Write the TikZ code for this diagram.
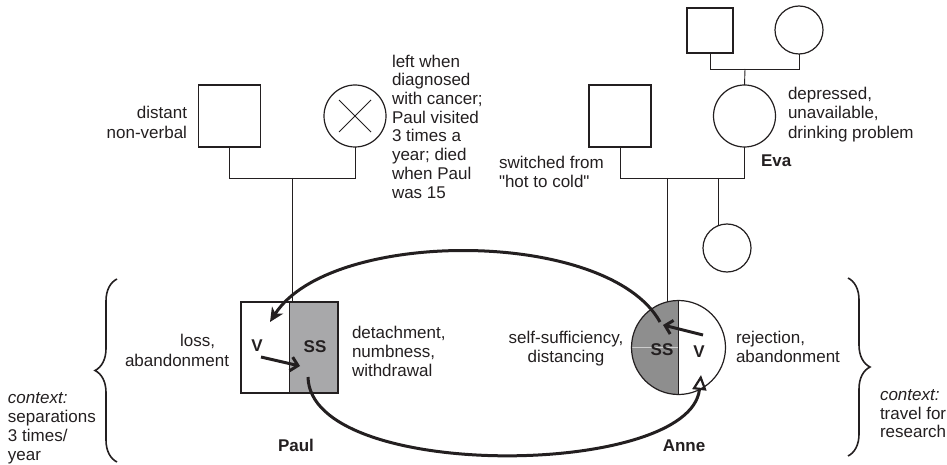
\documentclass[tikz,border=0pt]{standalone}
\usepackage{fontspec}
\setmainfont{Liberation Sans}[Ligatures=TeXOff]
\usetikzlibrary{arrows.meta,decorations.pathreplacing,calc}
\definecolor{ink}{RGB}{35,31,32}
\definecolor{paulgray}{RGB}{168,168,170}
\definecolor{annegray}{RGB}{142,142,142}
\definecolor{seam}{RGB}{205,205,205}
\begin{document}
\begin{tikzpicture}[x=1pt,y=-1pt,
  every node/.style={inner sep=0pt, outer sep=0pt, text=ink},
  boldlbl/.style={font=\fontsize{17}{19}\selectfont\bfseries},
  ped/.style={draw=ink, line width=0.9pt},
  male/.style={draw=ink, line width=1.2pt, minimum width=62pt, minimum height=62pt},
  female/.style={draw=ink, circle, line width=1.2pt},
  loopline/.style={draw=ink, line width=3pt},
  innerarrow/.style={draw=ink, line width=3pt, -{Straight Barb[length=7pt,width=14pt]}},
  cbrace/.style={draw=ink, line width=1.6pt, decorate, decoration={brace, amplitude=22pt}},
]
\useasboundingbox (0,0) rectangle (947,465);

% ---------- Paul's parents ----------
\node[male] (pf) at (229.5,116) {};
\node[female, minimum size=62pt] (pm) at (355,116) {};
\draw[ped] ([shift={(-16,-16)}]pm.center) -- ([shift={(16,16)}]pm.center);
\draw[ped] ([shift={(16,-16)}]pm.center) -- ([shift={(-16,16)}]pm.center);
\coordinate (pmj) at (292,178);
\draw[ped] (pf.south) -- (pf.south |- pmj) -- (pm.south |- pmj) -- (pm.south);

% ---------- Paul ----------
\node[draw=ink, line width=1.2pt, minimum width=97pt, minimum height=91pt,
  path picture={
    \fill[paulgray] (path picture bounding box.north) rectangle (path picture bounding box.south east);
    \draw[ink, line width=1.2pt] (path picture bounding box.north) -- (path picture bounding box.south);
  }] (paul) at (289.5,347.5) {};
\draw[ped] (pmj) -- (pmj |- paul.north);

% ---------- Anne's parents ----------
\node[male] (af) at (620,116) {};
\node[female, minimum size=62pt] (eva) at (744.5,116) {};
\node[draw=ink, line width=2.6pt, minimum width=46pt, minimum height=45pt] (ef) at (710,30.5) {};
\node[female, minimum size=48pt] (em) at (799,30) {};
\coordinate (emj) at (745,69);
\draw[ped] (ef.south) -- (ef.south |- emj) -- (em.south |- emj) -- (em.south);
\draw[ped] (emj) -- (eva.north);

% ---------- Anne and sibling ----------
\node[draw=ink, circle, line width=1.2pt, minimum size=94pt,
  path picture={
    \fill[annegray] (path picture bounding box.north west) rectangle (path picture bounding box.south);
    \draw[seam, line width=0.7pt] (path picture bounding box.west) -- (path picture bounding box.center);
    \draw[ink, line width=1pt] (path picture bounding box.north) -- (path picture bounding box.south);
  }] (anne) at (678.5,347.5) {};
\node[female, minimum size=48pt] (sib) at (727,248) {};
\coordinate (amj) at (669,178);
\draw[ped] (af.south) -- (af.south |- amj) -- (eva.south |- amj) -- (eva.south);
\draw[ped] (anne.103 |- amj) -- (anne.103);
\draw[ped] (sib.112 |- amj) -- (sib.112);

% ---------- labels ----------
\node[font=\fontsize{17}{20}\selectfont, align=right, anchor=north east] (tpf) at (187,105.8) {distant\\non-verbal};
\node[font=\fontsize{17}{18.7}\selectfont, align=left, anchor=north west] (tpm) at (392,54.8)
  {left when\\diagnosed\\with cancer;\\Paul visited\\3 times a\\year; died\\when Paul\\was 15};
\node[font=\fontsize{17}{19}\selectfont, align=left, anchor=north west] (taf) at (499,155.8)
  {switched from\\"hot to cold"};
\node[font=\fontsize{17}{19.7}\selectfont, align=left, anchor=north west] (teva) at (788,86.8)
  {depressed,\\unavailable,\\drinking problem};
\node[boldlbl, anchor=base west] (neva) at (761,167) {Eva};

\node[font=\fontsize{17}{20.5}\selectfont, align=right, anchor=north east] (tloss) at (229,333.8)
  {loss,\kern14pt\\abandonment};
\node[font=\fontsize{17}{19}\selectfont, align=left, anchor=north west] (tdet) at (352,325.8)
  {detachment,\\numbness,\\withdrawal};
\node[font=\fontsize{17}{19.5}\selectfont, align=center, anchor=north] (tself) at (566,330.8)
  {self-sufficiency,\\distancing};
\node[font=\fontsize{17}{19.5}\selectfont, align=left, anchor=north west] (trej) at (736,330.8)
  {rejection,\\abandonment};

\node[font=\fontsize{17}{19}\selectfont, align=left, anchor=north west] (tctxl) at (8,392.6)
  {\textit{context:}\\separations\\3 times/\\year};
\node[font=\fontsize{17}{18.3}\selectfont, align=left, anchor=north west] (tctxr) at (880,389.8)
  {\textit{context:}\\travel for\\research};

\node[boldlbl, anchor=base] (npaul) at (296,451) {Paul};
\node[boldlbl, anchor=base] (nanne) at (684,451) {Anne};

\node[boldlbl, anchor=base] (pv) at (257,351) {V};
\node[boldlbl, anchor=base] (pss) at (315,352) {SS};
\node[boldlbl, anchor=base] (ass) at (662,355) {SS};
\node[boldlbl, anchor=base] (av) at (699,357) {V};

% ---------- inner arrows ----------
\coordinate (pvs) at (261,357);
\coordinate (pve) at (300,366);
\draw[innerarrow] (pvs) -- (pve);
\coordinate (avs) at (703,335);
\coordinate (ave) at (663,325);
\draw[innerarrow] (avs) -- (ave);

% ---------- cycle ----------
\coordinate (loopA) at (660,322);
\coordinate (loopP) at (270,322);
\draw[loopline, -{Stealth[length=14pt,width=13pt,inset=4pt]}] (loopA) .. controls (608,228) and (330,228) .. (loopP);
\coordinate (loopP2) at (308,377);
\coordinate (loopA2) at (701,375);
\draw[loopline, -{Triangle[open,length=15pt,width=14pt,line width=2.2pt]}] (loopP2) .. controls (310,482) and (690,478) .. (loopA2);

% ---------- braces ----------
\coordinate (lb1) at (117,462);
\coordinate (lb2) at (117,279);
\draw[cbrace] (lb1) -- (lb2);
\coordinate (rb1) at (848,278);
\coordinate (rb2) at (848,456);
\draw[cbrace] (rb1) -- (rb2);
\end{tikzpicture}
\end{document}
